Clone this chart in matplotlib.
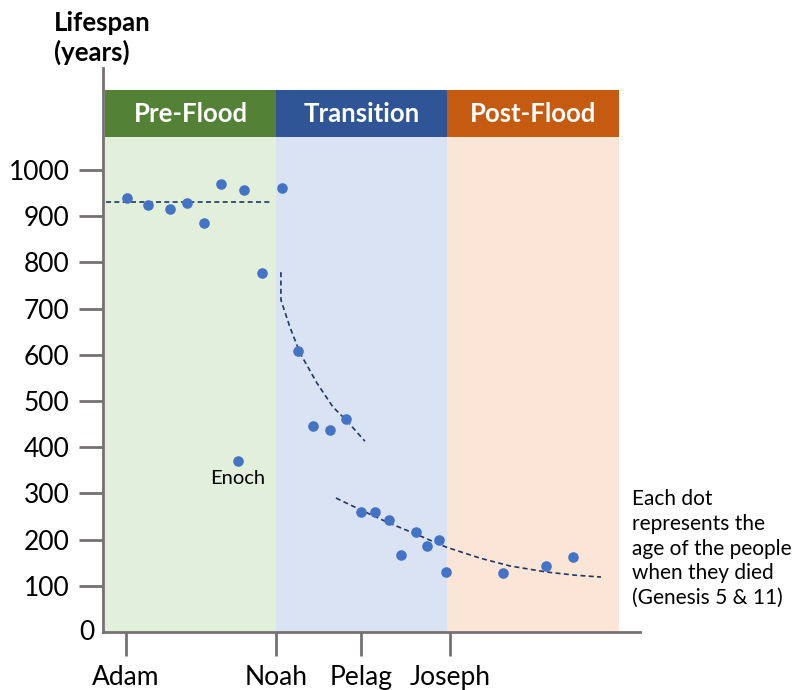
import numpy as np
import matplotlib.pyplot as plt

plt.rcParams['font.family'] = ['Lato', 'DejaVu Sans']

# era bands: name, start, end, header colour, background colour
eras = ['Pre-Flood', 'Transition', 'Post-Flood']
era_start = [-1.37, 10.0, 21.43]
era_end = [10.0, 21.43, 32.87]
era_head = ['#538135', '#2F5597', '#C55A11']
era_back = ['#E2EFDA', '#DAE3F3', '#FBE5D6']

# lifespans (x = generation position)
pre_x = [0.07, 1.47, 2.93, 4.07, 5.2, 6.33, 7.87, 9.07, 10.4]
pre_y = [939, 924, 916, 929, 885, 970, 957, 777, 961]
enoch_x = [7.47]
enoch_y = [370]
trans_x = [11.47, 12.47, 13.6, 14.67]
trans_y = [608, 446, 437, 461]
post_x = [15.67, 16.6, 17.53, 18.33, 19.33, 20.07, 20.87, 21.33, 25.13, 28.0, 29.8]
post_y = [260, 260, 242, 167, 216, 186, 199, 130, 128, 143, 162]

# trend lines
pre_trend_x = [-1.3, 9.7]
pre_trend_y = [931, 931]
trans_trend_x = [10.33, 10.33, 10.93, 11.6, 12.73, 13.8, 14.73, 15.93]
trans_trend_y = [779, 719, 660, 604, 539, 487, 457, 413]
post_trend_x = [14.0, 15.67, 17.53, 19.33, 21.33, 23.6, 25.6, 28.0, 29.93, 31.67]
post_trend_y = [290, 264, 236, 212, 184, 160, 143, 130, 123, 119]

people = ['Adam', 'Noah', 'Pelag', 'Joseph']
people_x = [0.0, 10.0, 15.67, 21.6]
yticks = [100, 200, 300, 400, 500, 600, 700, 800, 900, 1000]

fig = plt.figure(figsize=(7.96, 6.90), dpi=100)
ax = fig.add_axes([103 / 796, 58 / 690, 537 / 796, 564 / 690])
ax.set_xlim(-1.533, 34.27)
ax.set_ylim(0, 1221)

head_lo, head_hi = 1071, 1173
for name, x0, x1, hc, bc in zip(eras, era_start, era_end, era_head, era_back):
    ax.fill_between([x0, x1], 0, head_lo, color=bc, lw=0, zorder=0)
    ax.fill_between([x0, x1], head_lo, head_hi, color=hc, lw=0, zorder=0)
    ax.text((x0 + x1) / 2, (head_lo + head_hi) / 2, name, color='white',
            fontsize=18.5, fontweight='bold', ha='center', va='center')

dash = dict(color='#203864', lw=1.2, ls=(0, (3, 2)), zorder=2)
ax.plot(pre_trend_x, pre_trend_y, **dash)
ax.plot(trans_trend_x, trans_trend_y, **dash)
ax.plot(post_trend_x, post_trend_y, **dash)

dot = dict(color='#4472C4', s=58, lw=0, zorder=3)
ax.scatter(pre_x, pre_y, **dot)
ax.scatter(enoch_x, enoch_y, **dot)
ax.scatter(trans_x, trans_y, **dot)
ax.scatter(post_x, post_y, **dot)
ax.text(enoch_x[0], enoch_y[0] - 20, 'Enoch', fontsize=14.5, ha='center', va='top')

for s in ['top', 'right']:
    ax.spines[s].set_visible(False)
for s in ['left', 'bottom']:
    ax.spines[s].set_color('#767171')
    ax.spines[s].set_linewidth(2)

ax.set_yticks(yticks)
ax.set_yticklabels([str(v) for v in yticks])
ax.set_xticks(people_x)
ax.set_xticklabels(people)
ax.tick_params(axis='both', length=17, width=2, color='#767171',
               labelsize=19, pad=7)
ax.text(-0.015, 0, '0', transform=ax.get_yaxis_transform(),
        fontsize=19, ha='right', va='center')

fig.text(54 / 796, 1 - 11 / 690, 'Lifespan\n(years)', fontsize=18.5,
         fontweight='bold', ha='left', va='top', linespacing=1.2)
fig.text(632 / 796, 1 - 489 / 690,
         'Each dot\nrepresents the\nage of the people\nwhen they died\n(Genesis 5 & 11)',
         fontsize=15, ha='left', va='top', linespacing=1.3)

fig.savefig('out.png', dpi=100)
